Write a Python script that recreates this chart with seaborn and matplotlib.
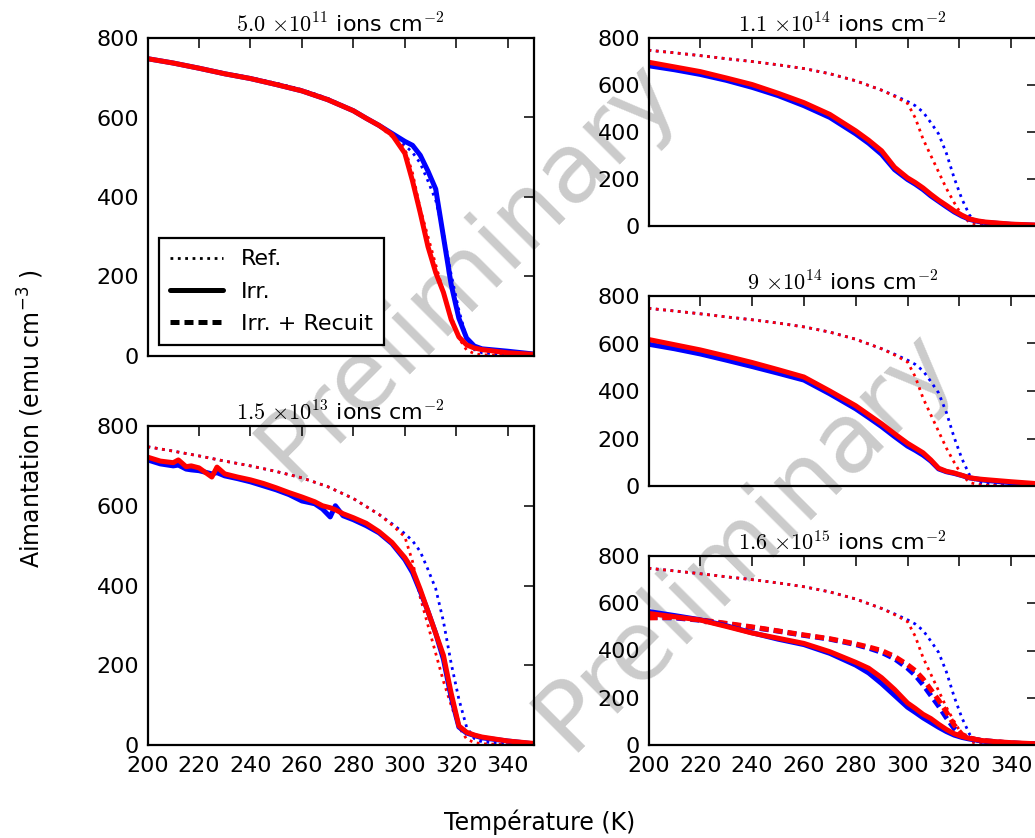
import numpy as np
import pandas as pd
import matplotlib
matplotlib.use("Agg")
import matplotlib.pyplot as plt
from matplotlib.lines import Line2D
import seaborn as sns

# ── Data ──────────────────────────────────────────────────────────────

TEMP = [200, 210, 220, 230, 240, 250, 260, 270, 280, 285, 290, 295, 300,
        303, 306, 309, 312, 315, 318, 321, 324, 327, 330, 340, 350]

# reference (non irradiated) sample, two measurements
REF_BLUE = [748, 737, 725, 712, 700, 686, 670, 648, 618, 598, 578, 555, 530,
            512, 485, 440, 392, 310, 205, 115, 45, 16, 8, 3, 1]
REF_RED = [748, 737, 725, 712, 700, 686, 670, 648, 618, 598, 578, 552, 522,
           460, 370, 300, 230, 160, 100, 45, 15, 6, 3, 1, 0]

# 5.0e11 ions/cm2
IRR_5E11_BLUE = [748, 737, 724, 710, 698, 683, 667, 645, 617, 598, 580, 560, 540,
                 530, 505, 465, 420, 300, 180, 95, 45, 25, 18, 12, 5]
IRR_5E11_RED = [748, 737, 724, 710, 698, 683, 667, 645, 617, 598, 580, 557, 510,
                440, 360, 275, 210, 160, 92, 48, 28, 20, 16, 8, 4]

# 1.5e13 ions/cm2 (noisier, finer grid)
TEMP_15E13 = [200, 205, 210, 212, 215, 217, 220, 225, 227, 230, 235, 240, 245,
              250, 255, 260, 265, 268, 271, 273, 276, 280, 285, 290, 295, 300,
              303, 306, 309, 312, 315, 318, 321, 324, 327, 330, 340, 350]
IRR_15E13_BLUE = [715, 705, 700, 702, 692, 690, 688, 680, 683, 675, 668, 660, 650,
                  640, 628, 612, 605, 592, 572, 600, 575, 565, 550, 532, 505, 465,
                  432, 385, 335, 280, 215, 120, 45, 30, 24, 18, 10, 3]
IRR_15E13_RED = [722, 712, 708, 715, 698, 700, 695, 672, 697, 680, 672, 665, 656,
                 645, 633, 622, 610, 600, 595, 590, 580, 570, 556, 535, 508, 470,
                 440, 390, 335, 280, 225, 130, 48, 32, 25, 20, 10, 4]

# 1.1e14 ions/cm2
IRR_11E14_BLUE = [682, 665, 645, 620, 590, 555, 512, 462, 392, 352, 305, 240, 198,
                  178, 155, 128, 105, 82, 60, 42, 28, 20, 15, 7, 3]
IRR_11E14_RED = [697, 677, 657, 630, 602, 565, 525, 475, 405, 365, 320, 250, 205,
                 185, 162, 135, 110, 88, 65, 46, 30, 22, 17, 8, 4]

# 9e14 ions/cm2
IRR_9E14_BLUE = [597, 578, 556, 530, 503, 475, 446, 388, 325, 288, 250, 208, 168,
                 150, 130, 105, 72, 60, 53, 44, 34, 29, 24, 14, 7]
IRR_9E14_RED = [617, 595, 573, 547, 520, 490, 459, 400, 338, 300, 262, 220, 180,
                160, 140, 110, 75, 62, 55, 45, 35, 30, 27, 18, 10]

# 1.6e15 ions/cm2, irradiated and irradiated + annealed
IRR_16E15_BLUE = [565, 548, 530, 505, 475, 448, 425, 388, 338, 305, 260, 210, 160,
                  138, 115, 95, 75, 57, 42, 32, 25, 20, 15, 8, 4]
IRR_16E15_RED = [557, 543, 529, 502, 474, 452, 430, 395, 350, 325, 285, 235, 178,
                 155, 130, 112, 88, 66, 48, 36, 28, 22, 17, 10, 5]
ANN_16E15_BLUE = [540, 538, 528, 513, 498, 482, 464, 448, 425, 410, 392, 365, 325,
                  295, 255, 210, 165, 115, 70, 40, 28, 22, 18, 8, 4]
ANN_16E15_RED = [538, 540, 530, 515, 500, 483, 466, 450, 428, 415, 400, 375, 340,
                 315, 280, 235, 190, 140, 85, 45, 30, 22, 18, 8, 4]

TITLES = [r"$5.0$ $\times10^{11}$ ions cm$^{-2}$",
          r"$1.5$ $\times10^{13}$ ions cm$^{-2}$",
          r"$1.1$ $\times10^{14}$ ions cm$^{-2}$",
          r"$9$ $\times10^{14}$ ions cm$^{-2}$",
          r"$1.6$ $\times10^{15}$ ions cm$^{-2}$"]

XTICKS = [200, 220, 240, 260, 280, 300, 320, 340]
YTICKS = [0, 200, 400, 600, 800]

# ── Style ─────────────────────────────────────────────────────────────

sns.set_theme(style="white")
plt.rcParams["font.family"] = ["DejaVu Sans"]
plt.rcParams["axes.linewidth"] = 1.6
plt.rcParams["axes.edgecolor"] = "black"
plt.rcParams["text.color"] = "black"
plt.rcParams["axes.labelcolor"] = "black"

DASHED = (0, (1.8, 1.0))
STY = {
    "ref": dict(linestyle=":", linewidth=2.0),
    "irr": dict(linestyle="-", linewidth=3.6),
    "ann": dict(linestyle=DASHED, linewidth=3.6),
}


def draw(ax, temp, values, color, kind):
    sns.lineplot(x=temp, y=values, color=color, ax=ax, estimator=None,
                 sort=False, **STY[kind])


fig = plt.figure(figsize=(10.35, 8.38), dpi=100)

W, H = 1035, 838
def add_axes(x0, y_top, y_bot, width=386):
    return fig.add_axes([x0 / W, 1 - y_bot / H, width / W, (y_bot - y_top) / H])

ax_a = add_axes(147.5, 38, 356)
ax_b = add_axes(147.5, 426, 745)
ax_c = add_axes(648.5, 38, 226, 388.5)
ax_d = add_axes(648.5, 296, 486, 388.5)
ax_e = add_axes(648.5, 556, 745, 388.5)
axes = [ax_a, ax_b, ax_c, ax_d, ax_e]

panels = [
    (TEMP, IRR_5E11_BLUE, IRR_5E11_RED),
    (TEMP_15E13, IRR_15E13_BLUE, IRR_15E13_RED),
    (TEMP, IRR_11E14_BLUE, IRR_11E14_RED),
    (TEMP, IRR_9E14_BLUE, IRR_9E14_RED),
    (TEMP, IRR_16E15_BLUE, IRR_16E15_RED),
]

for ax, (temp, blue, red), title in zip(axes, panels, TITLES):
    ax.set_facecolor("none")
    draw(ax, TEMP, REF_BLUE, "blue", "ref")
    draw(ax, TEMP, REF_RED, "red", "ref")
    if ax is ax_e:
        draw(ax, TEMP, ANN_16E15_BLUE, "blue", "ann")
        draw(ax, TEMP, ANN_16E15_RED, "red", "ann")
    draw(ax, temp, blue, "blue", "irr")
    draw(ax, temp, red, "red", "irr")

    ax.set_xlim(200, 350)
    ax.set_ylim(0, 800)
    ax.set_xticks(XTICKS)
    ax.set_yticks(YTICKS)
    ax.set_xlabel("")
    ax.set_ylabel("")
    ax.tick_params(direction="in", length=7, width=1.1, top=True, right=True,
                   labelsize=16, colors="black")
    ax.tick_params(axis="y", pad=6)
    ax.tick_params(axis="x", pad=8)
    ax.set_title(title, fontsize=16, pad=4, math_fontfamily="cm")
    if ax not in (ax_b, ax_e):
        ax.tick_params(labelbottom=False)
    for s in ax.spines.values():
        s.set_color("black")

handles = [Line2D([], [], color="black", **STY["ref"]),
           Line2D([], [], color="black", **STY["irr"]),
           Line2D([], [], color="black", **STY["ann"])]
leg = ax_a.legend(handles, ["Ref.", "Irr.", "Irr. + Recuit"], loc="lower left",
                  fontsize=16, frameon=True, fancybox=False, framealpha=1,
                  edgecolor="black", borderaxespad=0.5, handlelength=2.4,
                  labelspacing=0.55, borderpad=0.5)
leg.get_frame().set_linewidth(1.6)

fig.text(0.521, 0.019, "Température (K)", ha="center", va="center", fontsize=17)
fig.text(0.03, 0.5, r"Aimantation (emu cm$^{-3}$ )", rotation=90, ha="center",
         va="center", fontsize=17, math_fontfamily="dejavusans")

# watermark
for x, y in [(0.452, 0.678), (0.72, 0.356)]:
    fig.text(x, y, "Preliminary", rotation=45, ha="center", va="center",
             fontsize=70, color="#cbcbcb", zorder=-5)

fig.savefig("out.png", dpi=100)
